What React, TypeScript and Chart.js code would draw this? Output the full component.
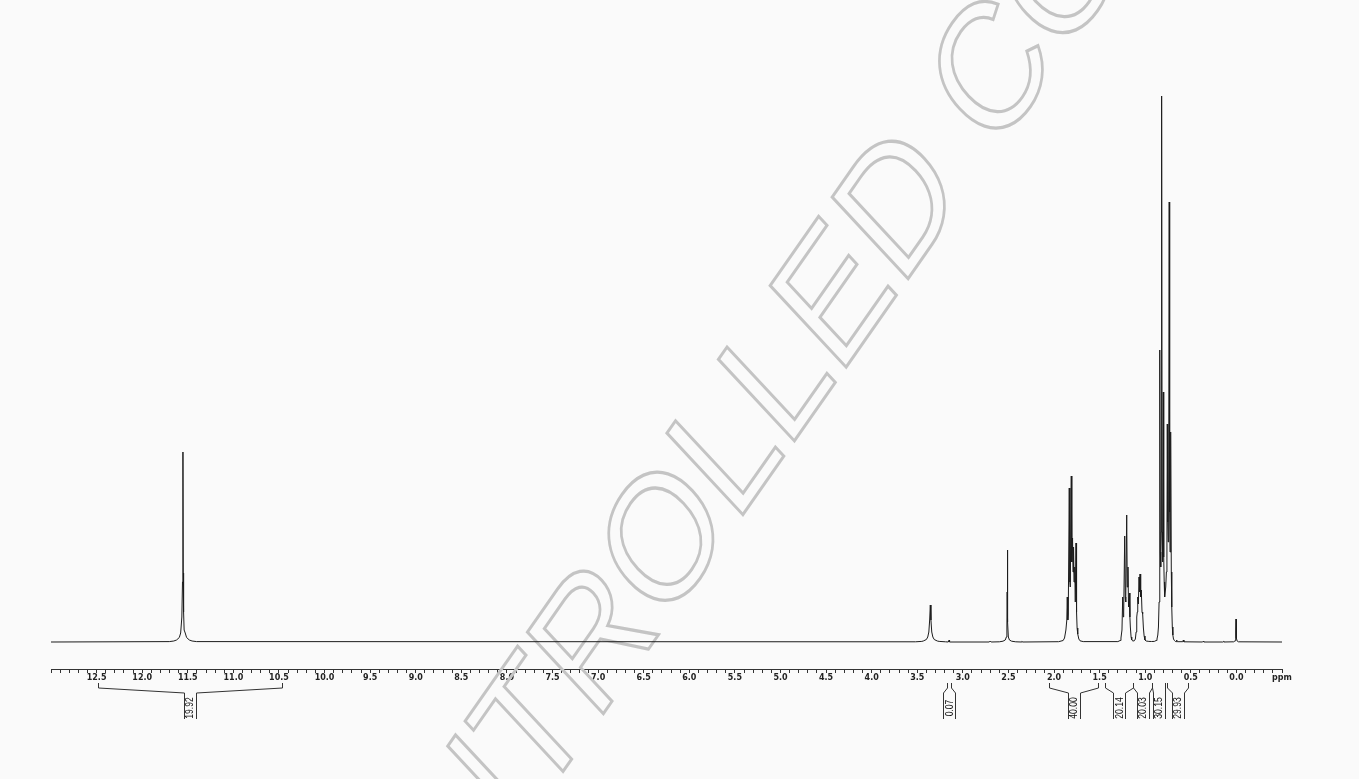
import React, { useEffect, useRef } from 'react';
import { Chart, registerables } from 'chart.js';

Chart.register(...registerables);

// ---- axis range (ppm, reversed) ----
const PPM_MIN = -0.5;
const PPM_MAX = 13.0;

// ---- spectrum peaks: [ppm, intensity] ----
const carboxylPeak: [number, number][] = [
  [11.703, 0.4], [11.653, 1], [11.623, 2], [11.593, 4.5], [11.578, 9], [11.565, 25],
  [11.558, 60], [11.553, 190], [11.550, 69], [11.546, 30], [11.540, 12], [11.528, 9],
  [11.513, 4.5], [11.483, 2], [11.453, 1], [11.403, 0.4],
];
const waterPeak: [number, number][] = [
  [3.52, 0.2], [3.45, 0.6], [3.434, 1], [3.40, 2.5], [3.385, 5], [3.373, 10], [3.364, 22],
  [3.357, 37], [3.350, 22], [3.341, 10], [3.329, 5], [3.314, 2.5], [3.28, 1], [3.26, 0.6], [3.19, 0.2],
];
const impurityPeaks: [number, number][] = [
  [3.16, 0], [3.150, 2], [3.146, 0],
  [2.71, 0], [2.700, 1], [2.69, 0],
  [2.36, 0], [2.352, 0.7], [2.344, 0],
];
const dmsoPeak: [number, number][] = [
  [2.60, 0.2], [2.56, 0.8], [2.535, 2], [2.523, 5], [2.517, 15], [2.514, 50], [2.512, 92],
  [2.510, 66], [2.507, 20], [2.501, 5], [2.489, 2], [2.465, 0.8], [2.42, 0.2],
];
const multiplet180: [number, number][] = [
  [1.95, 0.3], [1.90, 1.5], [1.885, 4], [1.870, 12], [1.860, 22], [1.855, 45], [1.849, 22],
  [1.844, 28], [1.833, 154], [1.826, 60], [1.822, 55], [1.811, 166], [1.805, 80], [1.797, 104],
  [1.792, 70], [1.786, 95], [1.781, 60], [1.773, 75], [1.767, 40], [1.759, 99], [1.753, 30],
  [1.747, 14], [1.740, 8], [1.728, 3], [1.715, 1.2], [1.68, 0.4],
];
const multiplet120: [number, number][] = [
  [1.30, 0.4], [1.275, 1.5], [1.266, 4], [1.255, 12], [1.247, 45], [1.241, 25], [1.236, 30],
  [1.225, 106], [1.219, 45], [1.214, 40], [1.203, 127], [1.197, 55], [1.189, 75], [1.184, 40],
  [1.181, 35], [1.174, 49], [1.168, 25], [1.163, 15], [1.155, 5], [1.148, 2], [1.135, 1],
];
const multiplet105: [number, number][] = [
  [1.12, 1.2], [1.108, 3], [1.100, 10], [1.093, 25], [1.087, 30], [1.082, 45], [1.075, 38],
  [1.068, 65], [1.062, 50], [1.057, 68], [1.050, 45], [1.043, 52], [1.035, 30], [1.028, 28],
  [1.020, 14], [1.012, 6], [1.003, 2], [0.99, 1], [0.96, 0.6], [0.93, 0.5],
];
const multiplet082: [number, number][] = [
  [0.90, 0.6], [0.88, 1.5], [0.871, 3], [0.862, 7], [0.855, 15], [0.848, 40], [0.843, 70],
  [0.838, 292], [0.834, 90], [0.830, 75], [0.825, 110], [0.820, 546], [0.815, 110], [0.811, 80],
  [0.806, 90], [0.802, 250], [0.797, 85], [0.792, 60], [0.787, 45],
];
const multiplet075: [number, number][] = [
  [0.775, 55], [0.768, 70], [0.762, 100], [0.758, 218], [0.753, 120], [0.748, 100], [0.743, 140],
  [0.737, 440], [0.732, 130], [0.728, 90], [0.723, 110], [0.719, 210], [0.714, 70], [0.709, 35],
  [0.703, 15], [0.697, 7], [0.690, 3], [0.680, 1.5], [0.670, 0.6], [0.662, 0.3],
];
const smallPeaks: [number, number][] = [
  [0.655, 2], [0.649, 0.3], [0.588, 0.3], [0.582, 2], [0.576, 0.2],
  [0.37, 0], [0.364, 0.7], [0.358, 0], [0.15, 0], [0.144, 0.5], [0.138, 0],
];
const tmsPeak: [number, number][] = [
  [0.03, 0.2], [0.015, 1.2], [0.009, 4], [0.006, 10], [0.004, 23], [0.002, 10],
  [-0.001, 4], [-0.007, 1.2], [-0.022, 0.2],
];

// ---- integrals ----
const integralStart = [12.49, 3.170, 2.052, 1.441, 1.131, 0.922, 0.764];
const integralEnd = [10.47, 3.133, 1.514, 1.131, 0.922, 0.783, 0.528];
const integralLabels = ['19.92', '0.07', '40.00', '20.14', '20.03', '30.15', '29.93'];

const watermarkText = 'UNCONTROLLED COPY';
const axisUnit = 'ppm';

function buildSpectrum() {
  const groups = [carboxylPeak, waterPeak, impurityPeaks, dmsoPeak, multiplet180, multiplet120,
    multiplet105, multiplet082, multiplet075, smallPeaks, tmsPeak];
  const pts: { x: number; y: number }[] = [{ x: PPM_MAX, y: 0 }, { x: PPM_MIN, y: 0 }];
  groups.forEach((g) => g.forEach(([x, y]) => pts.push({ x, y })));
  pts.sort((a, b) => b.x - a.x);
  return pts;
}

const backgroundPlugin = {
  id: 'bg',
  beforeDraw(chart: any) {
    const ctx = chart.ctx;
    ctx.save();
    ctx.fillStyle = '#fafafa';
    ctx.fillRect(0, 0, chart.width, chart.height);
    ctx.restore();
  },
};

const watermarkPlugin = {
  id: 'watermark',
  beforeDatasetsDraw(chart: any) {
    const ctx = chart.ctx;
    const fs = 162;
    const B = (-55 * Math.PI) / 180;
    const S = (47 * Math.PI) / 180;
    ctx.save();
    ctx.translate(688, 494);
    ctx.transform(Math.cos(B), Math.sin(B), Math.cos(S), Math.sin(S), 0, 0);
    ctx.font = `${fs}px "Liberation Sans", Arial, sans-serif`;
    ctx.textAlign = 'center';
    ctx.textBaseline = 'alphabetic';
    ctx.lineWidth = 3;
    ctx.lineJoin = 'miter';
    ctx.strokeStyle = '#c4c4c4';
    ctx.strokeText(watermarkText, 0, 0.358 * fs);
    ctx.restore();
  },
};

const integralPlugin = {
  id: 'integrals',
  afterDraw(chart: any) {
    const ctx = chart.ctx;
    const xs = chart.scales.x;
    const y0 = 683, y1 = 688, y2 = 693, y3 = 719;
    const half = 6;
    ctx.save();
    ctx.strokeStyle = '#333';
    ctx.lineWidth = 1;
    ctx.fillStyle = '#111';
    integralLabels.forEach((label, i) => {
      const xa = xs.getPixelForValue(integralStart[i]);
      const xb = xs.getPixelForValue(integralEnd[i]);
      const xc = (xa + xb) / 2;
      ctx.beginPath();
      ctx.moveTo(Math.round(xa) + 0.5, y0);
      ctx.lineTo(Math.round(xa) + 0.5, y1);
      ctx.lineTo(Math.round(xc - half) + 0.5, y2);
      ctx.lineTo(Math.round(xc - half) + 0.5, y3);
      ctx.moveTo(Math.round(xb) + 0.5, y0);
      ctx.lineTo(Math.round(xb) + 0.5, y1);
      ctx.lineTo(Math.round(xc + half) + 0.5, y2);
      ctx.lineTo(Math.round(xc + half) + 0.5, y3);
      ctx.stroke();
      ctx.save();
      ctx.translate(xc, 708);
      ctx.rotate(-Math.PI / 2);
      ctx.scale(0.78, 1);
      ctx.font = '11px "Liberation Sans", Arial, sans-serif';
      ctx.textAlign = 'center';
      ctx.textBaseline = 'middle';
      ctx.fillText(label, 0, 0.5);
      ctx.restore();
    });
    ctx.restore();
  },
};

export default function App() {
  const canvasRef = useRef<HTMLCanvasElement | null>(null);

  useEffect(() => {
    if (!canvasRef.current) return;
    const tickValues: number[] = [];
    for (let k = Math.round(PPM_MIN * 10); k <= Math.round(PPM_MAX * 10); k++) tickValues.push(k / 10);

    const chart = new Chart(canvasRef.current, {
      type: 'line',
      data: {
        datasets: [
          {
            data: buildSpectrum(),
            borderColor: '#1c1c1c',
            borderWidth: 1,
            pointRadius: 0,
            tension: 0,
            fill: false,
          },
        ],
      },
      plugins: [backgroundPlugin, watermarkPlugin, integralPlugin],
      options: {
        responsive: false,
        animation: false,
        parsing: false,
        devicePixelRatio: 1,
        layout: { padding: { top: 20, left: 51, right: 77, bottom: 0 } },
        plugins: { legend: { display: false }, tooltip: { enabled: false }, title: { display: false } },
        scales: {
          x: {
            type: 'linear',
            reverse: true,
            min: PPM_MIN,
            max: PPM_MAX,
            position: 'bottom',
            border: { display: true, color: '#333', width: 1 },
            grid: { display: true, drawOnChartArea: false, drawTicks: true, tickLength: 4, color: '#333', tickColor: '#333' },
            afterBuildTicks: (scale: any) => {
              scale.ticks = tickValues.map((v) => ({ value: v }));
            },
            afterFit: (scale: any) => {
              scale.height = 110;
            },
            ticks: {
              autoSkip: false,
              maxRotation: 0,
              minRotation: 0,
              padding: 1,
              color: '#222',
              font: { family: 'DejaVu Sans', size: 8, weight: 'bold', lineHeight: 1.1 },
              callback: (value: any) => {
                const v = Number(value);
                if (Math.abs(v - PPM_MIN) < 1e-6) return axisUnit;
                const k = Math.round(v * 10);
                if (k % 5 === 0 && v < PPM_MAX - 0.05) return v.toFixed(1);
                return '';
              },
            },
          },
          y: {
            display: false,
            min: -27,
            max: 622,
          },
        },
      } as any,
    });
    return () => chart.destroy();
  }, []);

  return (
    <div style={{ position: 'absolute', left: 0, top: 0, width: 1359, height: 779 }}>
      <canvas ref={canvasRef} width={1359} height={779} style={{ display: 'block' }} />
    </div>
  );
}
